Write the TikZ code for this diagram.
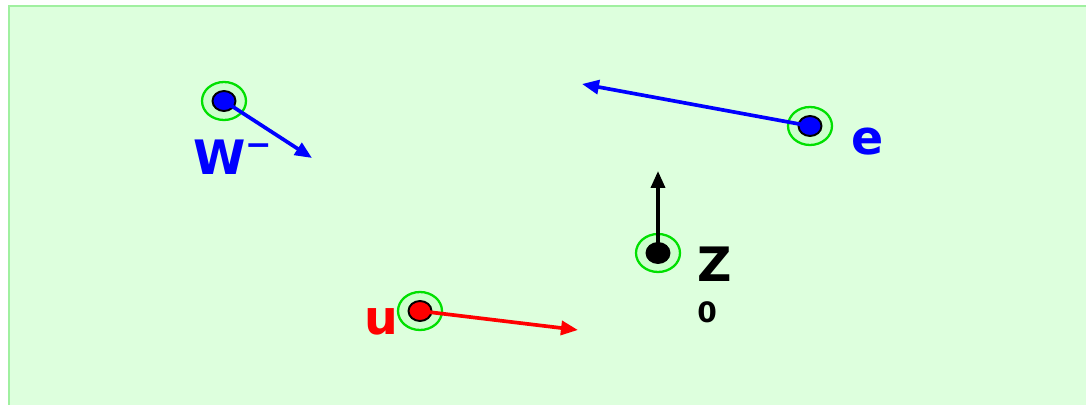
\documentclass[tikz,border=0pt]{standalone}
\usepackage{fontspec}
\setmainfont{DejaVu Sans}
\usetikzlibrary{shapes.geometric,arrows.meta}
\definecolor{bgfill}{HTML}{DDFFDD}
\definecolor{bgline}{HTML}{A0F0A0}
\definecolor{ringline}{HTML}{00E000}
\definecolor{ringfill}{HTML}{CCFFCC}

\tikzset{
  ring/.style={ellipse, draw=ringline, fill=ringfill, line width=1.3pt, minimum width=0.88cm, minimum height=0.76cm, inner sep=0pt},
  particle/.style={ellipse, draw=black, line width=1.1pt, minimum width=0.46cm, minimum height=0.4cm, inner sep=0pt},
  momentum/.style={-{Triangle[length=0.34cm,width=0.28cm]}, line width=2.1pt},
  partname/.style={anchor=base west, inner sep=0pt, font=\bfseries\fontsize{27}{27}\selectfont},
  partsub/.style={anchor=base west, inner sep=0pt, font=\bfseries\fontsize{16}{16}\selectfont}
}

\begin{document}
\begin{tikzpicture}[x=0.02cm,y=-0.02cm]
    \useasboundingbox (0,0) rectangle (1086,405);
    \draw[draw=bgline, fill=bgfill, line width=1.2pt] (9,6) rectangle (1095,415);

    % Define nodes
    \node[ring] (wring) at (224,101) {};
    \node[particle, fill=blue] (w) at (224,101) {};
    \node[ring] (ering) at (810,126) {};
    \node[particle, fill=blue] (e) at (810,126) {};
    \node[ring] (zring) at (658,253) {};
    \node[particle, fill=black] (z) at (658,253) {};
    \node[ring] (uring) at (420,311) {};
    \node[particle, fill=red] (u) at (420,311) {};

    % Labels
    \node[partname, text=blue] (wlabel) at (193,175) {W\raisebox{0.42em}{\fontsize{18}{18}\selectfont −}};
    \node[partname, text=blue] (elabel) at (851,155) {e};
    \node[partname] (zlabel) at (697,282) {Z};
    \node[partsub] (zindex) at (697,323) {0};
    \node[partname, text=red] (ulabel) at (364,335) {u};

    % Momentum arrows
    \coordinate (wtip) at (312,158);
    \coordinate (etip) at (582,84);
    \coordinate (ztip) at (658,171);
    \coordinate (utip) at (578,330);
    \draw[momentum, blue] (w.center) -- (wtip);
    \draw[momentum, blue] (e.center) -- (etip);
    \draw[momentum, black] (z.center) -- (ztip);
    \draw[momentum, red] (u.center) -- (utip);
\end{tikzpicture}
\end{document}
